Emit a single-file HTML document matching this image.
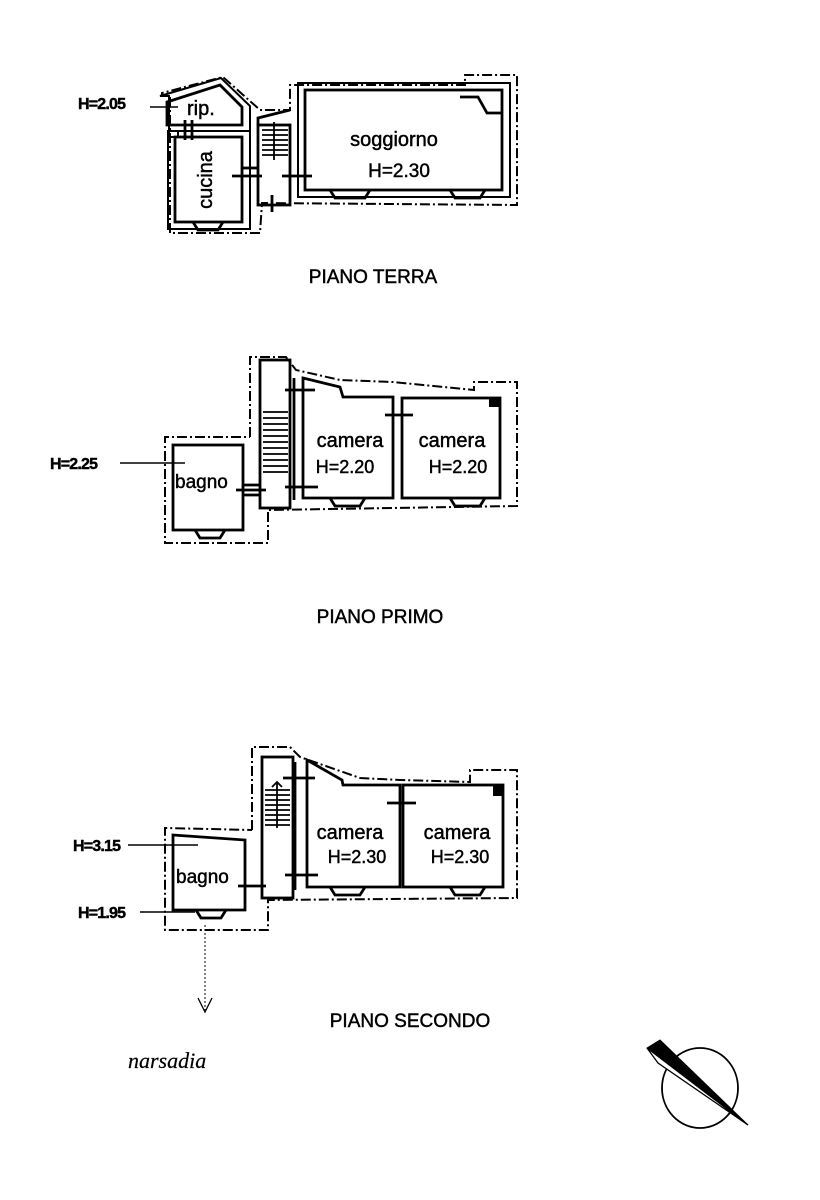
<!DOCTYPE html>
<html><head><meta charset="utf-8"><style>
html,body{margin:0;padding:0;background:#fff}
svg{display:block}
text{font-family:"Liberation Sans",Arial,sans-serif;fill:#000;stroke:#000;stroke-width:0.45}
</style></head><body>
<svg width="820" height="1200" viewBox="0 0 820 1200" xmlns="http://www.w3.org/2000/svg">
<g fill="none" stroke="#000" stroke-width="2.8">
<!-- ===== PIANO TERRA ===== -->
<polyline points="170,97 170,233 260,233 262,203 517,205 517,75 465,75 465,85 290,85 290,110 260,110 223,77 162,93 162,97" stroke-dasharray="10,3,2,3" stroke-width="2"/>
<polygon points="167,102 220,85 242,107 242,125 167,125"/>
<polygon points="160,96 221,78 250,106 250,131 178,131 178,137 169,137 169,96" stroke-width="2"/>
<rect x="175" y="137" width="67" height="85"/>
<rect x="168" y="131" width="82" height="98" stroke-width="2"/>
<rect x="258" y="125" width="32" height="80"/>
<polyline points="258,125 258,118 290,110"/>
<g stroke-width="1.8">
<line x1="262" y1="130" x2="288" y2="130"/><line x1="262" y1="135" x2="288" y2="135"/><line x1="262" y1="140" x2="288" y2="140"/><line x1="262" y1="145" x2="288" y2="145"/><line x1="262" y1="150" x2="288" y2="150"/><line x1="262" y1="155" x2="288" y2="155"/><line x1="274" y1="122" x2="274" y2="160"/>
</g>
<rect x="305" y="90" width="197" height="100"/>
<rect x="298" y="83" width="212" height="114" stroke-width="2"/>
<polyline points="460,97 478,97 487,113 502,113"/>
<polyline points="242,168 258,168 M242,180 258,180 M290,168 305,168 M290,180 305,180"/>
<line x1="232" y1="176" x2="262" y2="176"/><line x1="282" y1="176" x2="312" y2="176"/>
<line x1="185" y1="120" x2="185" y2="140"/><line x1="192" y1="120" x2="192" y2="140"/>
<line x1="272" y1="195" x2="272" y2="212"/>
<path d="M330,190 l5,8 h30 l5,-8 M450,190 l5,8 h25 l5,-8 M193,222 l5,8 h20 l5,-8"/>
<line x1="150" y1="107" x2="178" y2="107" stroke-width="1.6"/>
<!-- ===== PIANO PRIMO ===== -->
<polyline points="250,437 250,357 286,357 296,370 340,380 393,382 474,390 474,382 517,382 517,506 268,510 268,543 165,543 165,437 250,437" stroke-dasharray="10,3,2,3" stroke-width="2"/>
<rect x="173" y="445" width="70" height="85"/>
<rect x="260" y="360" width="30" height="148"/>
<line x1="294" y1="378" x2="294" y2="500"/>
<polygon points="303,378 340,387 343,397 393,397 393,498 303,498"/>
<rect x="402" y="398" width="98" height="100"/>
<g stroke-width="1.8">
<line x1="263" y1="412" x2="288" y2="412"/><line x1="263" y1="418" x2="288" y2="418"/><line x1="263" y1="424" x2="288" y2="424"/><line x1="263" y1="430" x2="288" y2="430"/><line x1="263" y1="436" x2="288" y2="436"/><line x1="263" y1="442" x2="288" y2="442"/><line x1="263" y1="448" x2="288" y2="448"/><line x1="263" y1="454" x2="288" y2="454"/><line x1="263" y1="460" x2="288" y2="460"/><line x1="263" y1="466" x2="288" y2="466"/><line x1="263" y1="472" x2="288" y2="472"/>
</g>
<line x1="285" y1="390" x2="315" y2="390"/><line x1="285" y1="487" x2="318" y2="487"/>
<line x1="385" y1="415" x2="413" y2="415"/>
<line x1="236" y1="490" x2="266" y2="490"/><line x1="243" y1="485" x2="260" y2="485"/><line x1="243" y1="495" x2="260" y2="495"/>
<line x1="120" y1="463" x2="185" y2="463" stroke-width="1.6"/>
<path d="M330,498 l5,8 h25 l5,-8 M450,498 l5,8 h25 l5,-8 M195,530 l5,8 h20 l5,-8"/>
<!-- ===== PIANO SECONDO ===== -->
<polyline points="252,830 252,747 290,747 300,757 360,778 400,780 470,782 470,770 517,770 517,898 268,900 268,930 165,930 165,828 252,830" stroke-dasharray="10,3,2,3" stroke-width="2"/>
<polygon points="173,835 245,840 245,910 173,910"/>
<rect x="262" y="757" width="31" height="141"/>
<line x1="295" y1="762" x2="295" y2="890"/>
<polygon points="307,760 342,780 343,785 400,785 400,887 307,887"/>
<rect x="403" y="785" width="100" height="102"/>
<g stroke-width="1.8">
<line x1="265" y1="790" x2="290" y2="790"/><line x1="265" y1="795" x2="290" y2="795"/><line x1="265" y1="800" x2="290" y2="800"/><line x1="265" y1="805" x2="290" y2="805"/><line x1="265" y1="810" x2="290" y2="810"/><line x1="265" y1="815" x2="290" y2="815"/><line x1="265" y1="820" x2="290" y2="820"/><line x1="265" y1="825" x2="290" y2="825"/><line x1="277" y1="782" x2="277" y2="828"/>
<polyline points="272,787 277,782 282,787"/>
</g>
<line x1="283" y1="778" x2="315" y2="778"/><line x1="285" y1="875" x2="318" y2="875"/>
<line x1="387" y1="803" x2="416" y2="803"/>
<line x1="238" y1="886" x2="266" y2="886"/>
<line x1="128" y1="845" x2="198" y2="845" stroke-width="1.6"/>
<line x1="140" y1="912" x2="195" y2="912" stroke-width="1.6"/>
<path d="M330,887 l5,8 h25 l5,-8 M450,887 l5,8 h25 l5,-8 M196,910 l5,8 h20 l5,-8"/>
<line x1="205" y1="925" x2="205" y2="1010" stroke-width="1" stroke-dasharray="2,2"/>
<polyline points="198,998 205,1012 212,998" stroke-width="1.3"/>
<!-- compass -->
<ellipse cx="700" cy="1088" rx="38" ry="40" stroke-width="1.8"/>
<polygon points="647,1048 660,1040 748,1125" fill="#000" stroke-width="1"/>
<polygon points="647,1048 658,1063 748,1125" fill="#fff" stroke-width="1.3"/>
</g>
<g fill="#000">
<rect x="489" y="397" width="10" height="10"/><rect x="493" y="786" width="10" height="10"/>
</g>
<text x="78" y="109" font-size="16" font-weight="bold" letter-spacing="-0.8">H=2.05</text>
<text x="187" y="115" font-size="20">rip.</text>
<text x="212" y="180" font-size="20" transform="rotate(-90 212 180)" text-anchor="middle">cucina</text>
<text x="394" y="146" font-size="20" text-anchor="middle">soggiorno</text>
<text x="399" y="177" font-size="19" text-anchor="middle">H=2.30</text>
<text x="373" y="283" font-size="19" text-anchor="middle">PIANO TERRA</text>
<text x="50" y="469" font-size="16" font-weight="bold" letter-spacing="-0.8">H=2.25</text>
<text x="175" y="488" font-size="19">bagno</text>
<text x="350" y="447" font-size="20" text-anchor="middle">camera</text>
<text x="345" y="473" font-size="18" text-anchor="middle">H=2.20</text>
<text x="452" y="447" font-size="20" text-anchor="middle">camera</text>
<text x="458" y="473" font-size="18" text-anchor="middle">H=2.20</text>
<text x="380" y="623" font-size="19" text-anchor="middle">PIANO PRIMO</text>
<text x="73" y="851" font-size="16" font-weight="bold" letter-spacing="-0.8">H=3.15</text>
<text x="78" y="918" font-size="16" font-weight="bold" letter-spacing="-0.8">H=1.95</text>
<text x="176" y="883" font-size="19">bagno</text>
<text x="350" y="839" font-size="20" text-anchor="middle" fill="#333">camera</text>
<text x="357" y="863" font-size="18" text-anchor="middle" fill="#333">H=2.30</text>
<text x="457" y="839" font-size="20" text-anchor="middle" fill="#333">camera</text>
<text x="460" y="863" font-size="18" text-anchor="middle" fill="#333">H=2.30</text>
<text x="410" y="1027" font-size="19" text-anchor="middle">PIANO SECONDO</text>
<text x="128" y="1068" font-size="22" font-style="italic" style="font-family:'Liberation Serif',serif;stroke-width:0.2">narsadia</text>
</svg>
</body></html>
